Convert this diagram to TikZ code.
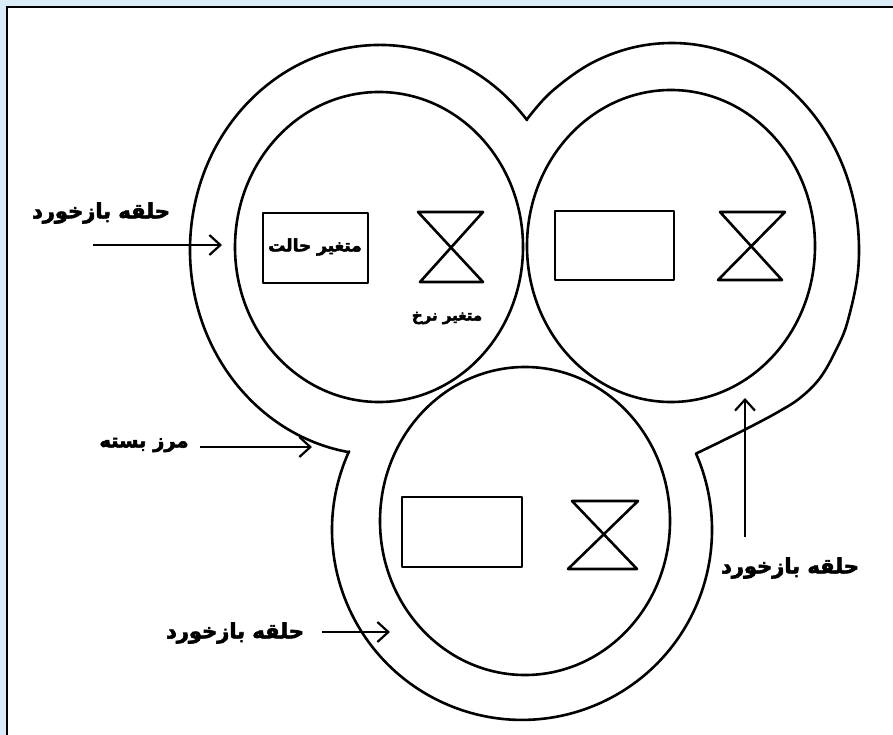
\documentclass[tikz,border=0pt]{standalone}
\usepackage{fontspec}
\newfontfamily\fa[Script=Arabic,BoldFont={DejaVu Sans Bold},BoldFeatures={FakeBold=3}]{DejaVu Sans}
\TeXXeTstate=1
\usetikzlibrary{arrows.meta}
\definecolor{bgblue}{RGB}{218,236,247}
\begin{document}
\begin{tikzpicture}[x=1pt,y=-1pt,
  ln/.style={line width=2.6pt, line cap=round, line join=round},
  lbl/.style={font=\fa\bfseries\fontsize{21}{24}\selectfont, inner sep=0pt},
  midlbl/.style={font=\fa\bfseries\fontsize{19.5}{22}\selectfont, inner sep=0pt},
  smalllbl/.style={font=\fa\bfseries\fontsize{17}{19}\selectfont, inner sep=0pt},
  ratelbl/.style={font=\fa\bfseries\fontsize{15}{17}\selectfont, inner sep=0pt},
  arr/.style={line width=2.2pt, -{Straight Barb[length=11pt,width=20pt,line width=2.2pt]}}]
\useasboundingbox (0,0) rectangle (893,735);
\fill[bgblue] (0,0) rectangle (893,735);
\filldraw[fill=white, draw=black, line width=2pt] (7,7) rectangle (905,745);

% outer closed boundary
\draw[ln] (527,120.1) arc[start angle=-39.3, end angle=-260.6, x radius=190, y radius=205]
  -- (349,451.4) arc[start angle=204.4, end angle=-23.7, radius=190]
  -- plot[smooth, tension=0.6] coordinates {(696,453.6) (722,441) (750,427) (778,412) (800,398) (820,378) (836,350) (847.8,320.8) (858.3,268) (856.2,214) (841.5,162.5) (815.2,116.9) (779.3,80.5) (736,55.5) (688.3,43.8) (639.5,46.1) (592.9,62.4) (551.8,91.4) (527,119.3)}
  -- cycle;

% inner loops
\draw[ln] (379,247) ellipse [x radius=144, y radius=155];
\draw[ln] (671,246) ellipse [x radius=144, y radius=156];
\draw[ln] (525,521) ellipse [x radius=145, y radius=154];

% stocks
\draw[ln] (263,213) rectangle (368,283);
\draw[ln] (555,211) rectangle (674,280);
\draw[ln] (402,497) rectangle (522,567);

% rates (hourglass)
\draw[ln] (418,212) -- (483,212) -- (420,282) -- (483,282) -- cycle;
\draw[ln] (720,212) -- (785,212) -- (718,280) -- (782,280) -- cycle;
\draw[ln] (572,501) -- (638,501) -- (568,569) -- (637,569) -- cycle;

% labels
\node[smalllbl] (stock) at (315,247) {\beginR متغیر حالت\endR};
\node[ratelbl] (rate) at (447,318) {\beginR متغیر نرخ\endR};
\node[lbl] (fbA) at (101,213) {\beginR حلقه بازخورد\endR};
\node[midlbl] (bound) at (144,445) {\beginR مرز بسته\endR};
\node[lbl] (fbB) at (235,633) {\beginR حلقه بازخورد\endR};
\node[lbl] (fbC) at (790,568) {\beginR حلقه بازخورد\endR};

% arrow end points
\coordinate (aS) at (93,245);  \coordinate (aE) at (222,245);
\coordinate (bS) at (200,447); \coordinate (bE) at (312,447);
\coordinate (cS) at (322,632); \coordinate (cE) at (390,632);
\coordinate (dS) at (745,537); \coordinate (dE) at (745,398);

\draw[arr] (aS) -- (aE);
\draw[arr] (bS) -- (bE);
\draw[arr] (cS) -- (cE);
\draw[arr] (dS) -- (dE);
\end{tikzpicture}
\end{document}
